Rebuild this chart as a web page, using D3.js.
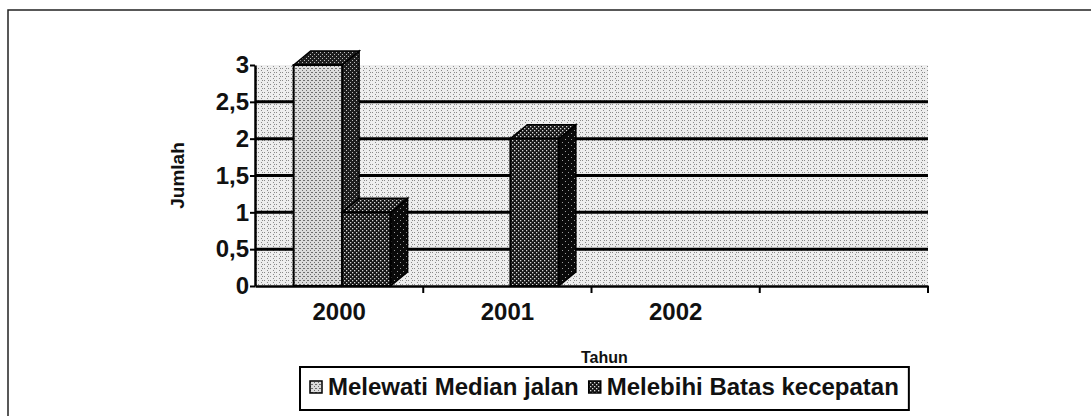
<!DOCTYPE html>
<html>
<head>
<meta charset="utf-8">
<script src="https://cdn.jsdelivr.net/npm/d3@7"></script>
<style>
  html, body { margin: 0; padding: 0; background: #fff; }
  svg { display: block; font-family: 'Liberation Sans', Arial, sans-serif; font-weight: bold; }
</style>
</head>
<body>
<svg id="container"></svg>
<script>
// chart data
const categories = ['2000', '2001', '2002', '']
const seriesNames = ['Melewati Median jalan', 'Melebihi Batas kecepatan']
const melewati = [3, 0, 0, 0]
const melebihi = [1, 2, 0, 0]
const yTicks = [0, 0.5, 1, 1.5, 2, 2.5, 3]
const yTitle = 'Jumlah'
const xTitle = 'Tahun'

function drawChart(svgWidth = 1091, svgHeight = 416) {
  const svg = d3
    .select('#container')
    .attr('width', svgWidth)
    .attr('height', svgHeight)

  // plot box (wall of the 3d chart)
  const plot = { left: 255, right: 928, top: 65, bottom: 286 }
  const depth = { dx: 17, dy: -14 }

  // stipple patterns imitating the printed halftone
  const defs = svg.append('defs')
  const pattern = (id, w, h, bg, dots, dotColor, r) => {
    const p = defs
      .append('pattern')
      .attr('id', id)
      .attr('patternUnits', 'userSpaceOnUse')
      .attr('width', w)
      .attr('height', h)
    p.append('rect').attr('width', w).attr('height', h).attr('fill', bg)
    dots.forEach(d => {
      p.append('rect')
        .attr('x', d[0])
        .attr('y', d[1])
        .attr('width', r)
        .attr('height', r)
        .attr('fill', dotColor)
    })
  }
  pattern('wall', 6, 4, '#eeeeee', [[0, 0], [3, 2], [4, 0]], '#8a8a8a', 1)
  pattern('light', 4, 4, '#dcdcdc', [[0, 0], [2, 2], [3, 0]], '#6e6e6e', 1)
  pattern('lightSide', 4, 4, '#1e1e1e', [[0, 0], [2, 2]], '#bdbdbd', 1)
  pattern('dark', 4, 4, '#151515', [[0, 0], [2, 2]], '#d8d8d8', 1.3)
  pattern('darkSide', 6, 6, '#0a0a0a', [[1, 1], [4, 4]], '#9a9a9a', 1)

  // outer frame of the chart area
  svg
    .append('path')
    .attr('d', `M8,${svgHeight} V10 H${svgWidth}`)
    .attr('fill', 'none')
    .attr('stroke', '#222')
    .attr('stroke-width', 1.5)

  // scales
  const x0 = d3
    .scaleBand()
    .domain(categories)
    .range([plot.left, plot.right])
  const x1 = d3
    .scaleBand()
    .domain(seriesNames)
    .range([3, x0.bandwidth() + 3])
    .paddingOuter(0.735)
    .paddingInner(0)
  const y = d3
    .scaleLinear()
    .domain([0, 3])
    .range([plot.bottom, plot.top])

  // wall
  svg
    .append('rect')
    .attr('x', plot.left)
    .attr('y', y(3))
    .attr('width', plot.right - plot.left)
    .attr('height', y(0) - y(3))
    .attr('fill', 'url(#wall)')

  // gridlines
  svg
    .append('g')
    .attr('class', 'grid')
    .selectAll('line')
    .data(yTicks.filter(d => d > 0 && d < 3))
    .join('line')
    .attr('x1', plot.left)
    .attr('x2', plot.right)
    .attr('y1', d => y(d))
    .attr('y2', d => y(d))
    .attr('stroke', '#000')
    .attr('stroke-width', 3)

  // bars with a simple 3d box look
  const fills = [
    { front: 'url(#light)', side: 'url(#lightSide)', top: 'url(#lightSide)' },
    { front: 'url(#dark)', side: 'url(#darkSide)', top: 'url(#dark)' }
  ]
  const rows = []
  ;[melewati, melebihi].forEach((values, s) => {
    values.forEach((v, i) => {
      if (v > 0) rows.push({ cat: categories[i], name: seriesNames[s], s, v })
    })
  })

  const bars = svg
    .append('g')
    .attr('class', 'bars')
    .selectAll('g')
    .data(rows)
    .join('g')

  bars.each(function (d) {
    const g = d3.select(this)
    const xl = x0(d.cat) + x1(d.name)
    const xr = xl + x1.bandwidth()
    const yt = y(d.v)
    const yb = y(0)
    const { dx, dy } = depth

    g.append('path')
      .attr('d', `M${xr},${yt} L${xr + dx},${yt + dy} L${xr + dx},${yb + dy} L${xr},${yb} Z`)
      .attr('fill', fills[d.s].side)
      .attr('stroke', '#000')
      .attr('stroke-width', 1.5)
    g.append('path')
      .attr('d', `M${xl},${yt} L${xl + dx},${yt + dy} L${xr + dx},${yt + dy} L${xr},${yt} Z`)
      .attr('fill', fills[d.s].top)
      .attr('stroke', '#000')
      .attr('stroke-width', 1.5)
    g.append('rect')
      .attr('x', xl)
      .attr('y', yt)
      .attr('width', x1.bandwidth())
      .attr('height', yb - yt)
      .attr('fill', fills[d.s].front)
      .attr('stroke', '#000')
      .attr('stroke-width', 2)
  })

  // y axis
  const gY = svg
    .append('g')
    .attr('class', 'axis y-axis')
    .attr('transform', `translate(${plot.left},0)`)
    .call(
      d3
        .axisLeft(y)
        .tickValues(yTicks)
        .tickSize(5)
        .tickSizeOuter(0)
        .tickPadding(1)
        .tickFormat(d => String(d).replace('.', ','))
    )
  gY.select('.domain').attr('stroke-width', 2.5)
  gY.selectAll('.tick line').attr('stroke-width', 2)
  gY.selectAll('.tick text')
    .attr('font-size', 24)
    .attr('font-family', 'Liberation Sans, Arial, sans-serif')
    .attr('font-weight', 'bold')
    .attr('fill', '#111')

  // x axis labels
  const gX = svg
    .append('g')
    .attr('class', 'axis x-axis')
    .attr('transform', `translate(0,${plot.bottom})`)
    .call(d3.axisBottom(x0).tickSize(0).tickSizeOuter(0).tickPadding(17))
  gX.select('.domain').attr('stroke-width', 2.5)
  gX.selectAll('.tick text')
    .attr('font-size', 24)
    .attr('font-family', 'Liberation Sans, Arial, sans-serif')
    .attr('font-weight', 'bold')
    .attr('fill', '#111')

  // x axis ticks sit on the category borders
  gX.append('g')
    .selectAll('line')
    .data(categories.map(c => x0(c) + x0.bandwidth()))
    .join('line')
    .attr('x1', d => d)
    .attr('x2', d => d)
    .attr('y1', 0)
    .attr('y2', 7)
    .attr('stroke', '#000')
    .attr('stroke-width', 2)

  // axis titles
  svg
    .append('text')
    .attr('transform', `translate(184,${(y(0) + y(3)) / 2}) rotate(-90)`)
    .attr('text-anchor', 'middle')
    .attr('font-size', 19)
    .attr('fill', '#111')
    .text(yTitle)

  // legend
  const legend = svg.append('g').attr('class', 'legend')
  const box = legend
    .append('rect')
    .attr('y', 367)
    .attr('height', 43)
    .attr('fill', '#fff')
    .attr('stroke', '#000')
    .attr('stroke-width', 2)
  let cx = 310
  seriesNames.forEach((name, s) => {
    legend
      .append('rect')
      .attr('x', cx)
      .attr('y', 381)
      .attr('width', 12)
      .attr('height', 12)
      .attr('fill', fills[s].front)
      .attr('stroke', '#000')
      .attr('stroke-width', 1.5)
    const t = legend
      .append('text')
      .attr('x', cx + 18)
      .attr('y', 395)
      .attr('font-size', 24)
      .attr('fill', '#111')
      .text(name)
    cx += 18 + t.node().getComputedTextLength() + 10
  })
  box.attr('x', 300).attr('width', cx - 300)

  svg
    .append('text')
    .attr('x', 300 + (cx - 300) / 2)
    .attr('y', 363)
    .attr('text-anchor', 'middle')
    .attr('font-size', 16)
    .attr('fill', '#111')
    .text(xTitle)
}

drawChart()
</script>
</body>
</html>
